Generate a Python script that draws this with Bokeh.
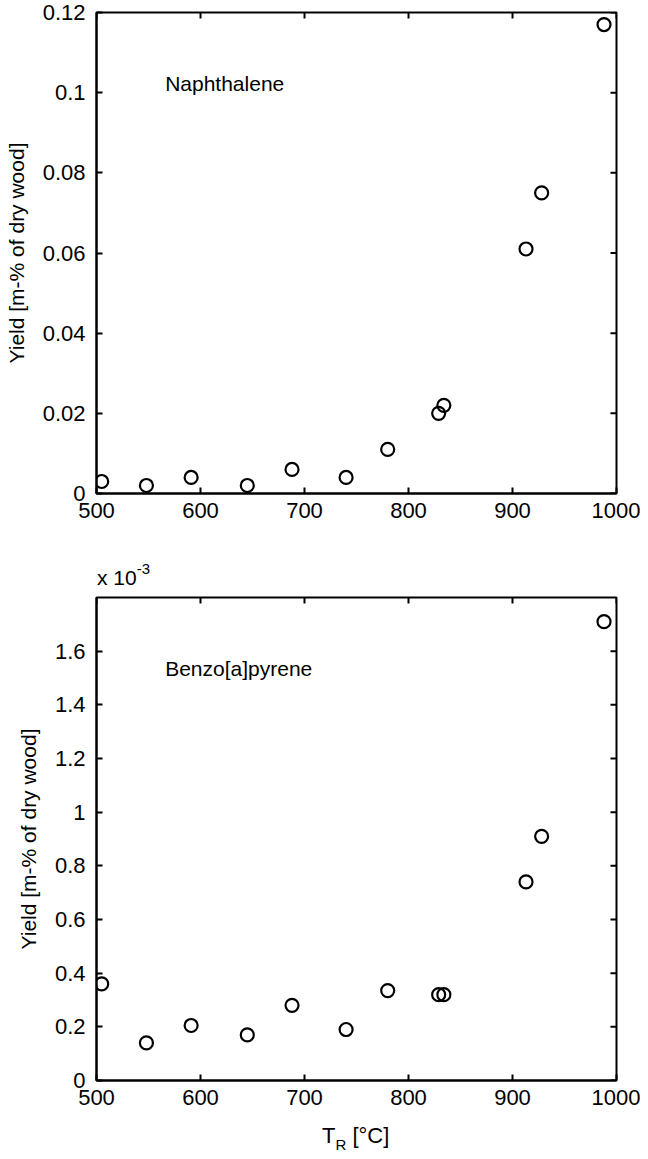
import math
from bokeh.plotting import figure
from bokeh.layouts import column
from bokeh.models import Range1d, FixedTicker, Label, Div
from bokeh.embed import file_html
from bokeh.resources import INLINE

# ---- data ----
temperature = [505, 548, 591, 645, 688, 740, 780, 829, 834, 913, 928, 988]
naphthalene = [0.003, 0.002, 0.004, 0.002, 0.006, 0.004, 0.011, 0.020, 0.022, 0.061, 0.075, 0.117]
benzo_e3 = [0.36, 0.14, 0.205, 0.17, 0.28, 0.19, 0.335, 0.32, 0.32, 0.74, 0.91, 1.71]

x_ticks = [500, 600, 700, 800, 900, 1000]
y1_ticks = [0, 0.02, 0.04, 0.06, 0.08, 0.1, 0.12]
y1_labels = ["0", "0.02", "0.04", "0.06", "0.08", "0.1", "0.12"]
y2_ticks = [0, 0.2, 0.4, 0.6, 0.8, 1.0, 1.2, 1.4, 1.6]
y2_labels = ["0", "0.2", "0.4", "0.6", "0.8", "1", "1.2", "1.4", "1.6"]

FONT = "Liberation Sans"
TICK_FS = "22px"
LABEL_FS = "21px"


def style_axis(ax, ticks, labels=None, standoff=9):
    ax.ticker = FixedTicker(ticks=ticks)
    ax.axis_line_color = "black"
    ax.axis_line_width = 2
    ax.major_tick_line_color = "black"
    ax.major_tick_line_width = 2
    ax.major_tick_in = 6
    ax.major_tick_out = 0
    ax.minor_tick_line_color = None
    ax.major_label_text_font = FONT
    ax.major_label_text_color = "black"
    ax.major_label_text_font_size = TICK_FS
    ax.major_label_standoff = standoff
    if labels is not None:
        ax.major_label_overrides = {t: l for t, l in zip(ticks, labels)}


def make_fig(ys, y_max, y_ticks, y_labels, top_border, bottom_border, frame_h, name):
    p = figure(frame_width=520, frame_height=frame_h,
               min_border_left=96, min_border_right=24,
               min_border_top=top_border, min_border_bottom=bottom_border,
               x_range=Range1d(500, 1000), y_range=Range1d(0, y_max),
               output_backend="svg", toolbar_location=None,
               background_fill_color="white", border_fill_color="white")
    p.grid.visible = False
    p.outline_line_color = "black"
    p.outline_line_width = 2
    style_axis(p.xaxis[0], x_ticks, standoff=9)
    style_axis(p.yaxis[0], y_ticks, y_labels, standoff=11)
    p.yaxis[0].axis_label = "Yield [m-% of dry wood]"
    p.yaxis[0].axis_label_text_font = FONT
    p.yaxis[0].axis_label_text_font_size = LABEL_FS
    p.yaxis[0].axis_label_text_font_style = "normal"
    p.yaxis[0].axis_label_text_color = "black"
    p.yaxis[0].axis_label_standoff = 12
    # inward ticks on the top and right edges (half of each dash is clipped by the frame)
    p.scatter(x_ticks, [y_max] * len(x_ticks), marker="dash", angle=math.pi / 2,
              size=12, line_color="black", line_width=2)
    p.scatter([1000] * len(y_ticks), y_ticks, marker="dash", angle=0,
              size=12, line_color="black", line_width=2)
    p.scatter(temperature, ys, marker="circle", size=13, fill_color=None,
              line_color="black", line_width=2.2)
    p.add_layout(Label(x=566, y=y_max * 0.852, text=name, text_font=FONT,
                       text_font_size="21px", text_baseline="middle",
                       text_color="black"))
    return p


p1 = make_fig(naphthalene, 0.12, y1_ticks, y1_labels, 12, 64, 481, "Naphthalene")
p2 = make_fig(benzo_e3, 1.8, y2_ticks, y2_labels, 8, 36, 483, "Benzo[a]pyrene")

exp_div = Div(
    text=('<div style="font-family:\'Liberation Sans\'; font-size:21px; line-height:21px; '
          'color:black; padding-left:97px; padding-top:10px; white-space:nowrap;">'
          'x 10<span style="font-size:15px; position:relative; top:-11px;">-3</span></div>'),
    width=640, height=32, margin=0)

xlabel_div = Div(
    text=('<div style="font-family:\'Liberation Sans\'; font-size:22px; line-height:22px; '
          'color:black; padding-left:322px; padding-top:9px; '
          'white-space:nowrap;">'
          'T<span style="font-size:15px; position:relative; top:7px;">R</span> [°C]</div>'),
    width=640, height=27, margin=0)

layout = column(p1, exp_div, p2, xlabel_div, spacing=0)
open("out.html", "w").write(file_html(layout, INLINE))
